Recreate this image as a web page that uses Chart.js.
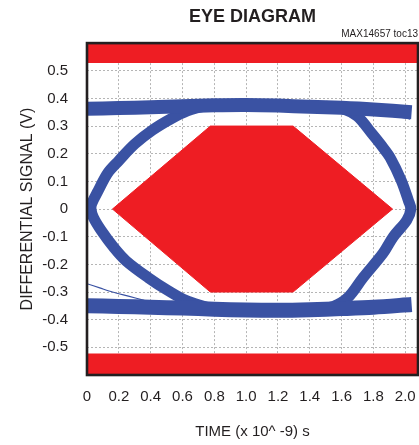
<!DOCTYPE html>
<html>
<head>
<meta charset="utf-8">
<script src="https://cdn.jsdelivr.net/npm/chart.js@4/dist/chart.umd.min.js"></script>
<style>
  html, body { margin: 0; padding: 0; background: #fff; }
  #wrap { width: 419px; height: 445px; }
</style>
</head>
<body>
<div id="wrap"><canvas id="c" width="419" height="445"></canvas></div>
<script>
// ---- Data ----
const xTickValues = [0, 0.2, 0.4, 0.6, 0.8, 1.0, 1.2, 1.4, 1.6, 1.8, 2.0];
const xTickLabels = ['0', '0.2', '0.4', '0.6', '0.8', '1.0', '1.2', '1.4', '1.6', '1.8', '2.0'];
const yTickValues = [-0.5, -0.4, -0.3, -0.2, -0.1, 0, 0.1, 0.2, 0.3, 0.4, 0.5];
const yTickLabels = ['-0.5', '-0.4', '-0.3', '-0.2', '-0.1', '0', '0.1', '0.2', '0.3', '0.4', '0.5'];

// eye mask (hexagon)
const maskX = [0.16, 0.775, 1.295, 1.92, 1.295, 0.775, 0.16];
const maskY = [0, 0.3, 0.3, 0, -0.3, -0.3, 0];

// upper / lower limit bands
const limitBandX = [0, 2.08];
const upperLimitY = [0.528, 0.528];
const lowerLimitY = [-0.522, -0.522];

// high level trace band
const topBandX = [0, 0.2, 0.4, 0.6, 0.8, 1.0, 1.2, 1.4, 1.6, 1.8, 2.04];
const topBandY = [0.363, 0.365, 0.368, 0.372, 0.375, 0.376, 0.374, 0.37, 0.366, 0.36, 0.35];
// low level trace band
const botBandX = [0, 0.2, 0.4, 0.6, 0.8, 1.0, 1.2, 1.4, 1.6, 1.8, 2.04];
const botBandY = [-0.35, -0.352, -0.355, -0.358, -0.362, -0.365, -0.366, -0.364, -0.36, -0.355, -0.345];

// left crossing transitions
const leftX = [0.72, 0.63, 0.53, 0.41, 0.3, 0.2, 0.13, 0.07, 0.03, 0.025, 0.04, 0.09, 0.17, 0.245, 0.385, 0.51, 0.62, 0.75];
const leftY = [0.37, 0.355, 0.327, 0.285, 0.235, 0.175, 0.13, 0.066, 0.02, 0, -0.03, -0.078, -0.14, -0.187, -0.248, -0.295, -0.33, -0.355];

// right crossing transitions
const rightX = [1.5, 1.62, 1.7, 1.79, 1.85, 1.905, 1.975, 2.02, 2.035, 2.01, 1.925, 1.86, 1.735, 1.64, 1.55, 1.45];
const rightY = [0.372, 0.36, 0.335, 0.273, 0.23, 0.186, 0.103, 0.03, 0, -0.04, -0.1, -0.16, -0.248, -0.32, -0.352, -0.364];

// stray single traces
const strayLowX = [0, 0.08, 0.16, 0.26, 0.36];
const strayLowY = [-0.27, -0.285, -0.3, -0.315, -0.33];
const strayHighX = [1.75, 1.85, 1.95, 2.03];
const strayHighY = [0.36, 0.345, 0.335, 0.325];

const RED = '#ee1d23';
const BLUE = '#3a52a3';
const FONT = "'Liberation Sans', Arial, Helvetica, sans-serif";

function pts(xs, ys) { return xs.map((x, i) => ({ x: x, y: ys[i] })); }

function trace(xs, ys, width, tension) {
  return {
    data: pts(xs, ys), showLine: true, borderColor: BLUE, borderWidth: width,
    pointRadius: 0, tension: tension, fill: false, clip: 0,
    borderCapStyle: 'butt', borderJoinStyle: 'round'
  };
}

const frame = {
  id: 'frame',
  afterDatasetsDraw(chart) {
    const a = chart.chartArea, ctx = chart.ctx;
    ctx.save();
    ctx.strokeStyle = '#231f20';
    ctx.lineWidth = 2.6;
    ctx.strokeRect(a.left, a.top, a.right - a.left, a.bottom - a.top);
    ctx.restore();
  }
};

new Chart(document.getElementById('c'), {
  type: 'scatter',
  data: {
    datasets: [
      { data: pts(limitBandX, upperLimitY), showLine: true, borderWidth: 0, borderColor: RED,
        backgroundColor: RED, fill: 'end', pointRadius: 0, clip: 0 },
      { data: pts(limitBandX, lowerLimitY), showLine: true, borderWidth: 0, borderColor: RED,
        backgroundColor: RED, fill: 'start', pointRadius: 0, clip: 0 },
      { data: pts(maskX, maskY), showLine: true, borderWidth: 1, borderColor: RED,
        backgroundColor: RED, fill: 'shape', pointRadius: 0, tension: 0, clip: 0 },
      trace(topBandX, topBandY, 14, 0.3),
      trace(botBandX, botBandY, 15, 0.3),
      trace(leftX, leftY, 11, 0.35),
      trace(rightX, rightY, 11, 0.35),
      trace(strayLowX, strayLowY, 1.2, 0.3),
      trace(strayHighX, strayHighY, 1.2, 0.3)
    ]
  },
  options: {
    responsive: false,
    animation: false,
    devicePixelRatio: 1,
    layout: { padding: { left: 0, right: 1, top: 0, bottom: 0 } },
    plugins: {
      legend: { display: false },
      tooltip: { enabled: false },
      title: {
        display: true, text: 'EYE DIAGRAM', fullSize: false, align: 'center',
        color: '#231f20', font: { family: FONT, size: 18, weight: 'bold' },
        padding: { top: 6, bottom: 0 }
      },
      subtitle: {
        display: true, text: 'MAX14657 toc13', fullSize: false, align: 'end',
        color: '#231f20', font: { family: FONT, size: 10 },
        padding: { top: 1, bottom: 2.5 }
      }
    },
    scales: {
      x: {
        type: 'linear', min: 0, max: 2.08,
        afterBuildTicks: (s) => { s.ticks = xTickValues.map(v => ({ value: v })); },
        afterFit: (s) => { s.height = 70; s.paddingLeft = 0; s.paddingRight = 0; },
        ticks: {
          callback: (v, i) => xTickLabels[i], color: '#231f20', padding: 13,
          maxRotation: 0, autoSkip: false, font: { family: FONT, size: 15 }
        },
        grid: { color: '#b5b5b5', lineWidth: 1, drawTicks: false },
        border: { display: false, dash: [2, 2] },
        title: {
          display: true, text: 'TIME (x 10^ -9) s', color: '#231f20',
          font: { family: FONT, size: 15 }, padding: { top: 0, bottom: 4 }
        }
      },
      y: {
        type: 'linear', min: -0.6, max: 0.6,
        afterBuildTicks: (s) => { s.ticks = yTickValues.map(v => ({ value: v })); },
        afterFit: (s) => { s.width = 87; s.paddingTop = 0; s.paddingBottom = 0; },
        ticks: {
          callback: (v, i) => yTickLabels[i], color: '#231f20', padding: 19,
          autoSkip: false, font: { family: FONT, size: 15 }
        },
        grid: { color: '#b5b5b5', lineWidth: 1, drawTicks: false },
        border: { display: false, dash: [2, 2] },
        title: {
          display: true, text: 'DIFFERENTIAL SIGNAL (V)', color: '#231f20',
          font: { family: FONT, size: 16 }, padding: { top: 18, bottom: 0 }
        }
      }
    }
  },
  plugins: [frame]
});
</script>
</body>
</html>
